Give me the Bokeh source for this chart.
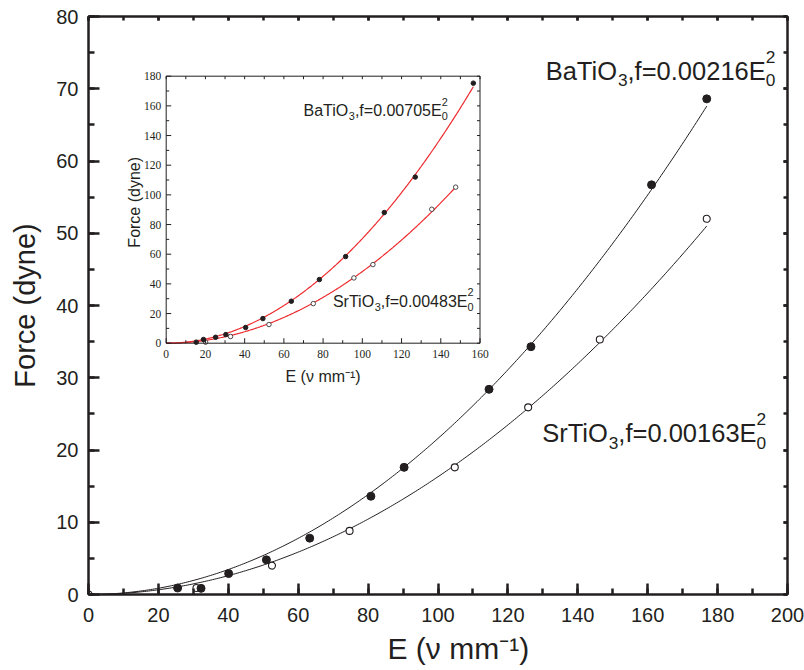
import numpy as np
from bokeh.plotting import figure
from bokeh.models import (Range1d, LinearAxis, SingleIntervalTicker, Label, LabelSet,
                          CustomJSTickFormatter, ColumnDataSource, Title)
from bokeh.embed import file_html
from bokeh.resources import INLINE

# ---- main panel: measured force against applied field ----
ba_E = [25.5, 32.2, 40.1, 50.9, 63.3, 80.8, 90.3, 114.6, 126.6, 161.1, 176.9]
ba_F = [0.9, 0.85, 2.9, 4.8, 7.8, 13.6, 17.6, 28.4, 34.3, 56.7, 68.6]
sr_E = [0.0, 30.9, 52.5, 74.7, 104.8, 125.8, 146.3, 176.9]
sr_F = [0.0, 0.9, 4.0, 8.8, 17.6, 25.9, 35.3, 52.0]
ba_coef = 0.00216
sr_coef = 0.00163

# ---- inset panel ----
in_ba_E = [15.3, 19.0, 25.2, 30.4, 40.5, 49.3, 63.8, 78.1, 91.5, 111.2, 127.0, 156.6]
in_ba_F = [0.7, 2.5, 4.0, 5.8, 10.6, 16.6, 28.3, 42.9, 58.4, 88.1, 112.0, 175.3]
in_sr_E = [20.1, 32.8, 52.4, 75.0, 95.7, 105.4, 135.4, 147.6]
in_sr_F = [0.7, 4.5, 12.6, 26.7, 44.0, 53.0, 90.3, 105.2]
in_ba_coef = 0.00705
in_sr_coef = 0.00483
in_x_major = list(range(0, 161, 20))
in_y_major = list(range(0, 181, 20))
in_x_minor = list(range(10, 160, 20))
in_y_minor = list(range(10, 180, 20))

INK = "#231f20"
RED = "#ee2a2e"
FONT = "Liberation Sans"

# Arial/Liberation Sans advance widths (1/1000 em) for the fit labels
ADV = {"B": 667, "a": 556, "T": 611, "i": 222, "O": 778, "S": 667, "r": 333,
       ",": 278, "f": 278, "=": 584, ".": 278, "E": 667}
for d in "0123456789":
    ADV[d] = 556


def text_width(s, px):
    return sum(ADV[c] for c in s) * px / 1000.0


def fit_label(fig, x, y, base, sub, coef, px, **ranges):
    """Draws e.g. BaTiO3,f=0.00216E0^2 with sub/superscripts."""
    small = round(px * 0.68, 1)

    def put(t, dx, dy, size):
        fig.add_layout(Label(x=x, y=y, text=t, x_offset=dx, y_offset=dy,
                             text_font=FONT, text_font_size=f"{size}px",
                             text_color=INK, text_baseline="alphabetic",
                             text_align="left", **ranges))

    put(base, 0, 0, px)
    off = text_width(base, px)
    put(sub, off, -0.37 * px, small)
    off += text_width(sub, small)
    mid = f",f={coef:.5f}E"
    put(mid, off, 0, px)
    off += text_width(mid, px)
    put("0", off, -0.37 * px, small)
    put("2", off, 0.55 * px, small)


def style_axis(ax, lw, tick_in, minor_in, label_px, standoff):
    ax.axis_line_width = lw
    ax.axis_line_color = INK
    ax.major_tick_line_color = INK
    ax.minor_tick_line_color = INK
    ax.major_tick_line_width = lw
    ax.minor_tick_line_width = lw
    ax.major_tick_in = tick_in
    ax.major_tick_out = 0
    ax.minor_tick_in = minor_in
    ax.minor_tick_out = 0
    ax.major_label_text_font = FONT
    ax.major_label_text_font_size = f"{label_px}px"
    ax.major_label_text_color = INK
    ax.major_label_standoff = standoff
    ax.axis_label_text_font = FONT
    ax.axis_label_text_font_style = "normal"
    ax.axis_label_text_color = INK


def blank_axis(lw, interval, tick_in):
    ax = LinearAxis(ticker=SingleIntervalTicker(interval=interval, num_minor_ticks=2),
                    formatter=CustomJSTickFormatter(code="return ''"))
    style_axis(ax, lw, tick_in, tick_in, 1, 0)
    return ax


# ---------------- main figure ----------------
FRAME_W, FRAME_H = 699, 578
p = figure(x_range=Range1d(0, 200), y_range=Range1d(0, 80),
           frame_width=FRAME_W, frame_height=FRAME_H,
           min_border_left=88, min_border_right=17, min_border_top=16, min_border_bottom=76,
           output_backend="svg", toolbar_location=None)
p.outline_line_color = None
p.xgrid.visible = False
p.ygrid.visible = False

p.xaxis.ticker = SingleIntervalTicker(interval=20, num_minor_ticks=2)
p.yaxis.ticker = SingleIntervalTicker(interval=10, num_minor_ticks=2)
style_axis(p.xaxis[0], 2.5, 11, 6, 20, 13)
style_axis(p.yaxis[0], 2.5, 11, 6, 20, 10)
p.yaxis.axis_label = "Force (dyne)"
p.yaxis.axis_label_text_font_size = "29px"
p.yaxis.axis_label_standoff = 12
p.add_layout(blank_axis(2.5, 10, 4), "right")
p.add_layout(blank_axis(2.5, 20, 4), "above")
p.add_layout(Title(text="E (\u03bd mm\u207b\u00b9)", align="left", offset=299, standoff=10,
                   text_font=FONT, text_font_size="30px", text_font_style="normal",
                   text_color=INK), "below")

for E, coef in ((ba_E, ba_coef), (sr_E, sr_coef)):
    xs = np.linspace(0, max(E), 300)
    p.line(xs, coef * xs ** 2, line_color=INK, line_width=1.0)
p.scatter(sr_E, sr_F, size=7, marker="circle", fill_color="white",
          line_color=INK, line_width=1.1)
p.scatter(ba_E, ba_F, size=8, marker="circle", fill_color=INK, line_color=INK)

fit_label(p, 130.8, 72.5, "BaTiO", "3", ba_coef, 25.5)
fit_label(p, 129.8, 22.3, "SrTiO", "3", sr_coef, 25.5)

# ---------------- inset, drawn on its own ranges inside the main frame ----------------
# inset frame box in pixels, measured from the main frame's lower-left corner
IN_L, IN_B, IN_W, IN_H = 77.7, 251.3, 313.8, 267.0
ux = 160.0 / IN_W
uy = 180.0 / IN_H
p.extra_x_ranges = {"ix": Range1d(-IN_L * ux, (FRAME_W - IN_L) * ux)}
p.extra_y_ranges = {"iy": Range1d(-IN_B * uy, (FRAME_H - IN_B) * uy)}
R = dict(x_range_name="ix", y_range_name="iy")

for E, coef in ((in_ba_E, in_ba_coef), (in_sr_E, in_sr_coef)):
    xs = np.linspace(0, max(E), 300)
    p.line(xs, coef * xs ** 2, line_color=RED, line_width=1.2, **R)
p.scatter(in_sr_E, in_sr_F, size=4.5, marker="circle", fill_color="white",
          line_color=INK, line_width=0.8, **R)
p.scatter(in_ba_E, in_ba_F, size=4.5, marker="circle", fill_color=INK, line_color=INK, **R)

# inset frame and inward ticks
p.quad(left=[0], right=[160], bottom=[0], top=[180], fill_color=None,
       line_color=INK, line_width=1, **R)
tick = dict(line_color=INK, line_width=1, length_units="screen", angle_units="deg", **R)
p.ray(x=in_x_major, y=[0] * len(in_x_major), length=5, angle=90, **tick)
p.ray(x=in_x_minor, y=[0] * len(in_x_minor), length=3, angle=90, **tick)
p.ray(x=[0] * len(in_y_major), y=in_y_major, length=5, angle=0, **tick)
p.ray(x=[0] * len(in_y_minor), y=in_y_minor, length=3, angle=0, **tick)
top_ticks = sorted(in_x_major + in_x_minor)
right_ticks = sorted(in_y_major + in_y_minor)
p.ray(x=top_ticks, y=[180] * len(top_ticks), length=3, angle=-90, **tick)
p.ray(x=[160] * len(right_ticks), y=right_ticks, length=3, angle=180, **tick)

lab = dict(text_font=FONT, text_font_size="11.5px", text_color=INK,
           text_baseline="alphabetic", **R)
xsrc = ColumnDataSource(dict(x=in_x_major, y=[0] * len(in_x_major),
                             t=[str(v) for v in in_x_major]))
ysrc = ColumnDataSource(dict(x=[0] * len(in_y_major), y=in_y_major,
                             t=[str(v) for v in in_y_major]))
p.add_layout(LabelSet(x="x", y="y", text="t", source=xsrc, text_align="center",
                      y_offset=-14.6, **lab))
p.add_layout(LabelSet(x="x", y="y", text="t", source=ysrc, text_align="right",
                      x_offset=-5, y_offset=-4.1, **lab))

p.add_layout(Label(x=80, y=0, text="E (\u03bd mm\u207b\u00b9)", y_offset=-33.3,
                   text_align="center", text_baseline="alphabetic", text_font=FONT,
                   text_font_size="16px", text_color=INK, **R))
p.add_layout(Label(x=0, y=95, text="Force (dyne)", x_offset=-31.5, angle=90, angle_units="deg",
                   text_align="center", text_baseline="alphabetic", text_font=FONT,
                   text_font_size="16px", text_color=INK, **R))

fit_label(p, 70.0, 156.9, "BaTiO", "3", in_ba_coef, 16, **R)
fit_label(p, 85.0, 28.3, "SrTiO", "3", in_sr_coef, 16, **R)

open("out.html", "w").write(file_html(p, INLINE))
